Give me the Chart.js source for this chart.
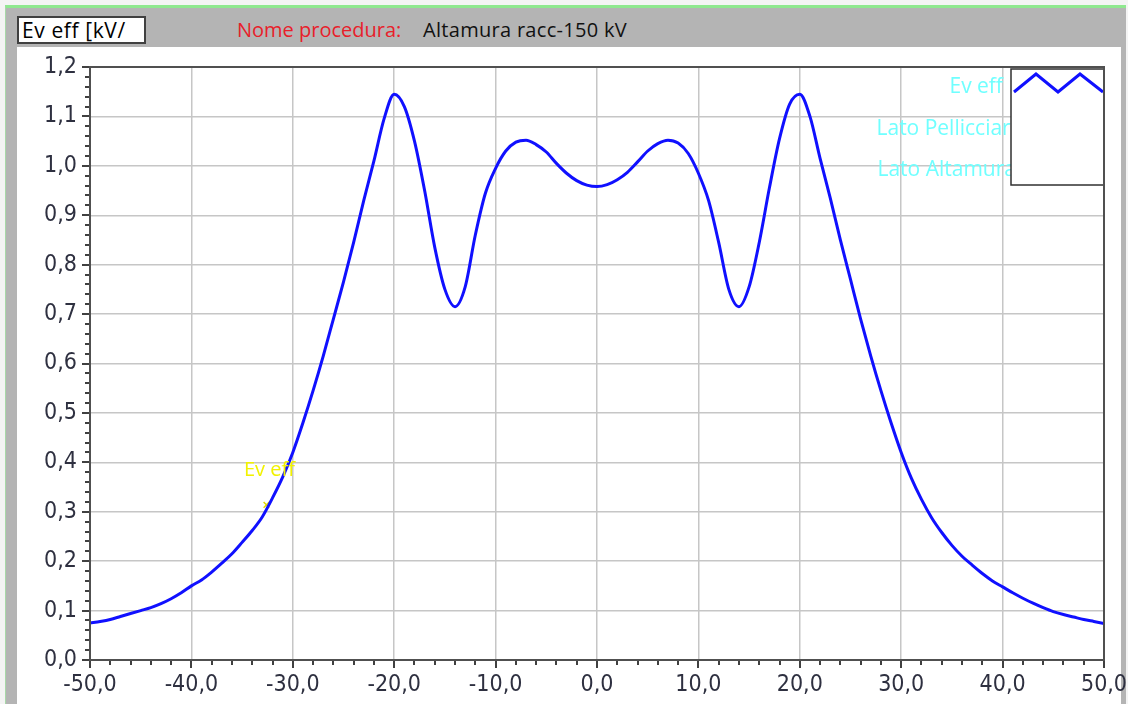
<!DOCTYPE html>
<html>
<head>
<meta charset="utf-8">
<script src="https://cdn.jsdelivr.net/npm/chart.js@4"></script>
<style>
    body { margin: 0; width: 1128px; height: 704px; background: #f4f4f4; overflow: hidden; font-family: "Open Sans", "Noto Sans", sans-serif; position: relative; }
    #frame { position: absolute; left: 5px; top: 5px; width: 1120px; height: 699px; background: #b4b4b4; border-top: 3px solid #8fe88f; border-left: 1px solid #a8d8a8; }
    #panel { position: absolute; left: 17px; top: 47px; width: 1104px; height: 657px; background: #ffffff; }
    #yTitle { position: absolute; left: 17px; top: 16px; width: 122px; height: 24px; background: #ffffff; border: 2px solid #404040; font-size: 21px; letter-spacing: 0.6px; line-height: 24px; padding-left: 3px; color: #000; white-space: nowrap; overflow: hidden; }
    #procLabel { position: absolute; left: 237px; top: 16px; font-size: 20px; line-height: 28px; color: #e8202a; }
    #procName { position: absolute; left: 423px; top: 16px; font-size: 20px; letter-spacing: 0.3px; line-height: 28px; color: #111; }
    #chartBox { position: absolute; left: 17px; top: 47px; width: 1140px; height: 657px; }
</style>
</head>
<body>
<div id="frame"></div>
<div id="panel"></div>
<div id="yTitle">Ev eff [kV/</div>
<div id="procLabel">Nome procedura:</div>
<div id="procName">Altamura racc-150 kV</div>
<div id="chartBox"><canvas id="chartCanvas"></canvas></div>

<script>
// Distance along the line (m) and field values (kV/m)
const distances = [
    -50, -49, -48, -47, -46, -45, -44, -43, -42, -41,
    -40, -39, -38, -37, -36, -35, -34, -33, -32, -31,
    -30, -29, -28, -27, -26, -25, -24, -23, -22, -21,
    -20, -19, -18, -17, -16, -15, -14, -13, -12, -11,
    -10, -9, -8, -7, -6, -5, -4, -3, -2, -1,
    0, 1, 2, 3, 4, 5, 6, 7, 8, 9,
    10, 11, 12, 13, 14, 15, 16, 17, 18, 19,
    20, 21, 22, 23, 24, 25, 26, 27, 28, 29,
    30, 31, 32, 33, 34, 35, 36, 37, 38, 39,
    40, 41, 42, 43, 44, 45, 46, 47, 48, 49, 50
];

const evEff = [
    0.075, 0.078, 0.082, 0.088, 0.094, 0.100, 0.106, 0.114, 0.124, 0.136,
    0.150, 0.162, 0.178, 0.196, 0.215, 0.238, 0.262, 0.290, 0.328, 0.370,
    0.420, 0.480, 0.545, 0.615, 0.690, 0.765, 0.845, 0.930, 1.010, 1.095,
    1.145, 1.120, 1.050, 0.950, 0.835, 0.750, 0.715, 0.755, 0.860, 0.945,
    0.995, 1.030, 1.048, 1.052, 1.043, 1.028, 1.005, 0.985, 0.970, 0.961,
    0.958, 0.962, 0.972, 0.987, 1.008, 1.030, 1.045, 1.052, 1.046, 1.025,
    0.985, 0.930, 0.845, 0.750, 0.715, 0.755, 0.845, 0.955, 1.055, 1.125,
    1.145, 1.100, 1.015, 0.935, 0.850, 0.770, 0.690, 0.615, 0.545, 0.480,
    0.420, 0.368, 0.325, 0.288, 0.258, 0.232, 0.210, 0.192, 0.175, 0.160,
    0.148, 0.136, 0.125, 0.115, 0.106, 0.098, 0.092, 0.087, 0.082, 0.078, 0.074
];

// Yellow cursor marker on the curve
const cursorX = [-32.6];
const cursorY = [0.314];

// Legend entries in the top right corner
const legendLabels = ["Ev eff", "Lato Pellicciari", "Lato Altamura"];

const tickFont = '"Liberation Sans Narrow", "DejaVu Sans Condensed", Roboto, sans-serif';
const textFont = '20px "Open Sans", "Noto Sans", sans-serif';
const legendFont = '21px "Open Sans", "Noto Sans", sans-serif';

function isMajor(value, step) {
    return Math.abs(value / step - Math.round(value / step)) < 1e-6;
}

function formatTick(value) {
    return value.toFixed(1).replace(".", ",");
}

// Plugin that draws the small tick marks, the cursor label and the legend
const decorations = {
    id: "decorations",
    afterDraw(chart) {
        const ctx = chart.ctx;
        const area = chart.chartArea;
        const xScale = chart.scales.x;
        const yScale = chart.scales.y;
        ctx.save();

        // tick marks outside the plot
        ctx.strokeStyle = "#404040";
        ctx.lineWidth = 2;
        yScale.ticks.forEach((t) => {
            const y = Math.round(yScale.getPixelForValue(t.value));
            const len = isMajor(t.value, 0.1) ? 8 : 5;
            ctx.beginPath();
            ctx.moveTo(area.left - len, y);
            ctx.lineTo(area.left, y);
            ctx.stroke();
        });
        xScale.ticks.forEach((t) => {
            const x = Math.round(xScale.getPixelForValue(t.value));
            const len = isMajor(t.value, 10) ? 8 : 5;
            ctx.beginPath();
            ctx.moveTo(x, area.bottom);
            ctx.lineTo(x, area.bottom + len);
            ctx.stroke();
        });

        // cursor label
        const cx = xScale.getPixelForValue(cursorX[0]);
        const cy = yScale.getPixelForValue(cursorY[0]);
        ctx.fillStyle = "#f2f200";
        ctx.font = textFont;
        ctx.textAlign = "center";
        ctx.textBaseline = "middle";
        ctx.fillText("Ev eff", cx + 3, cy - 35);

        // legend texts
        const boxLeft = area.right - 93;
        const boxTop = area.top + 2;
        ctx.font = legendFont;
        ctx.fillStyle = "#70ffff";
        ctx.textAlign = "right";
        ctx.fillText(legendLabels[0], boxLeft - 8, boxTop + 18);
        ctx.fillText(legendLabels[1], boxLeft + 5, boxTop + 60);
        ctx.fillText(legendLabels[2], boxLeft + 5, boxTop + 101);

        // legend box with line sample
        ctx.fillStyle = "#ffffff";
        ctx.fillRect(boxLeft, boxTop, 93, 116);
        ctx.strokeStyle = "#303030";
        ctx.lineWidth = 1.5;
        ctx.strokeRect(boxLeft, boxTop, 93, 116);
        ctx.strokeStyle = "#1010ff";
        ctx.lineWidth = 3;
        ctx.beginPath();
        ctx.moveTo(boxLeft + 3, boxTop + 23);
        ctx.lineTo(boxLeft + 25, boxTop + 5);
        ctx.lineTo(boxLeft + 47, boxTop + 23);
        ctx.lineTo(boxLeft + 69, boxTop + 5);
        ctx.lineTo(boxLeft + 92, boxTop + 23);
        ctx.stroke();

        // plot frame
        ctx.strokeStyle = "#505050";
        ctx.lineWidth = 2;
        ctx.strokeRect(area.left, area.top, area.right - area.left, area.bottom - area.top);
        ctx.restore();
    }
};

const ctx = document.getElementById("chartCanvas").getContext("2d");
const myChart = new Chart(ctx, {
    type: "line",
    data: {
        datasets: [{
                label: "Ev eff",
                data: distances.map((d, i) => ({ x: d, y: evEff[i] })),
                borderColor: "#1010ff",
                borderWidth: 3,
                pointRadius: 0,
                cubicInterpolationMode: "monotone",
            },
            {
                label: "cursor",
                data: cursorX.map((d, i) => ({ x: d, y: cursorY[i] })),
                showLine: false,
                pointStyle: "crossRot",
                pointRadius: 4,
                borderColor: "#e0d800",
                borderWidth: 1.5,
            },
        ],
    },
    options: {
        responsive: true,
        maintainAspectRatio: false,
        animation: false,
        devicePixelRatio: 1,
        layout: { padding: { top: 20, right: 53, left: 0, bottom: 0 } },
        plugins: {
            legend: { display: false },
            tooltip: { enabled: false },
        },
        scales: {
            x: {
                type: "linear",
                min: -50,
                max: 50,
                afterFit: (scale) => { scale.height = 44; },
                grid: {
                    drawTicks: false,
                    lineWidth: 1.5,
                    color: (c) => isMajor(c.tick.value, 10) ? "#c6c6c6" : "rgba(0,0,0,0)",
                },
                border: { display: false },
                ticks: {
                    stepSize: 2,
                    autoSkip: false,
                    maxRotation: 0,
                    padding: 11,
                    color: "#2e3040",
                    font: { family: tickFont, size: 23 },
                    callback: (v) => isMajor(v, 10) ? formatTick(v) : "",
                },
            },
            y: {
                min: 0,
                max: 1.2,
                afterFit: (scale) => {
                    scale.width = 73;
                    // the top label fits inside the layout padding
                    scale.paddingTop = 0;
                    scale.paddingBottom = 0;
                },
                grid: {
                    drawTicks: false,
                    lineWidth: 1.5,
                    color: (c) => isMajor(c.tick.value, 0.1) ? "#c6c6c6" : "rgba(0,0,0,0)",
                },
                border: { display: false },
                ticks: {
                    stepSize: 0.02,
                    autoSkip: false,
                    padding: 13,
                    color: "#2e3040",
                    font: { family: tickFont, size: 23 },
                    callback: (v) => isMajor(v, 0.1) ? formatTick(v) : "",
                },
            },
        },
    },
    plugins: [decorations],
});
</script>
</body>
</html>
